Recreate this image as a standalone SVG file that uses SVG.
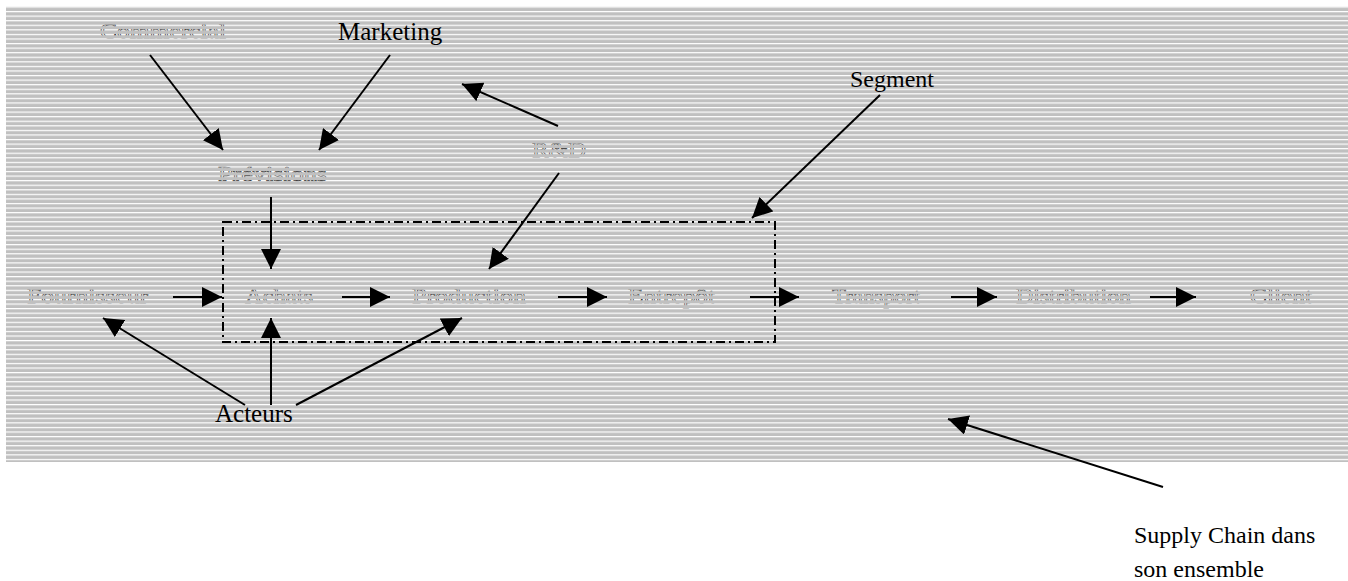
<svg xmlns="http://www.w3.org/2000/svg" width="1348" height="581" viewBox="0 0 1348 581">
  <defs>
    <!-- grey bands with thin transparent gaps; drawn over the outlined labels -->
    <pattern id="stripes" patternUnits="userSpaceOnUse" width="20" height="4.57" patternTransform="translate(0,1.86)">
      <rect x="0" y="1.2" width="20" height="3.37" fill="#c0c0c0"/>
    </pattern>
    <marker id="head" markerUnits="userSpaceOnUse" markerWidth="21" markerHeight="20" refX="20" refY="10" orient="auto" viewBox="0 0 21 20">
      <path d="M0,0 L20,10 L0,20 Z" fill="#000"/>
    </marker>
    <style>
      .step { font-family: "Liberation Serif", "Times New Roman", serif; font-size: 20px; fill: #ffffff; stroke: #111; stroke-width: 0.6; }
      .label { font-family: "Liberation Serif", "Times New Roman", serif; font-size: 24px; fill: #000; }
      .big { font-size: 25px; }
      .arrow { stroke: #000; stroke-width: 2; fill: none; marker-end: url(#head); }
      .segment { stroke: #000; stroke-width: 2; fill: none; stroke-dasharray: 9 4 2 4; }
    </style>
  </defs>

  <rect x="0" y="0" width="1348" height="581" fill="#ffffff"/>

  <!-- outlined process labels, partly hidden by the striped band -->
  <g id="node-commercial"><text class="step" x="100" y="38" textLength="126" lengthAdjust="spacingAndGlyphs">Commercial</text></g>
  <g id="node-previsions"><text class="step" x="218" y="181" textLength="109" lengthAdjust="spacingAndGlyphs">Prévisions</text></g>
  <g id="node-rd"><text class="step" x="532" y="157" textLength="54" lengthAdjust="spacingAndGlyphs">R&amp;D</text></g>
  <g id="node-fournisseur"><text class="step" x="27" y="303" textLength="121" lengthAdjust="spacingAndGlyphs">Fournisseur</text></g>
  <g id="node-achats"><text class="step" x="245" y="303" textLength="68" lengthAdjust="spacingAndGlyphs">Achats</text></g>
  <g id="node-production"><text class="step" x="412" y="303" textLength="114" lengthAdjust="spacingAndGlyphs">Production</text></g>
  <g id="node-entrepot"><text class="step" x="628" y="303" textLength="87" lengthAdjust="spacingAndGlyphs">Entrepôt</text></g>
  <g id="node-transport"><text class="step" x="832" y="303" textLength="88" lengthAdjust="spacingAndGlyphs">Transport</text></g>
  <g id="node-distribution"><text class="step" x="1016" y="303" textLength="115" lengthAdjust="spacingAndGlyphs">Distribution</text></g>
  <g id="node-client"><text class="step" x="1250" y="303" textLength="62" lengthAdjust="spacingAndGlyphs">Client</text></g>

  <!-- striped band covering the whole chain -->
  <rect id="band" x="6" y="6.7" width="1342" height="455.3" fill="url(#stripes)"/>

  <!-- plain labels -->
  <g id="node-marketing"><text class="label big" x="338" y="40">Marketing</text></g>
  <g id="node-segment"><text class="label" x="850" y="87">Segment</text></g>
  <g id="node-acteurs"><text class="label big" x="215" y="422">Acteurs</text></g>
  <g id="node-supply-chain"><text class="label" x="1134" y="543">Supply Chain dans</text><text class="label" x="1134" y="577">son ensemble</text></g>

  <!-- segment frame -->
  <g id="segment-frame">
    <rect class="segment" x="223" y="222" width="552" height="120"/>
  </g>

  <g id="connectors">
    <line class="arrow" x1="150" y1="55" x2="223" y2="150"/>
    <line class="arrow" x1="390" y1="55" x2="319" y2="150"/>
    <line class="arrow" x1="558" y1="126" x2="462" y2="84"/>
    <line class="arrow" x1="559" y1="173" x2="489" y2="269"/>
    <line class="arrow" x1="880" y1="95" x2="752" y2="218"/>
    <line class="arrow" x1="271" y1="197" x2="271" y2="269"/>
    <line class="arrow" x1="173" y1="297" x2="222" y2="297"/>
    <line class="arrow" x1="342" y1="297" x2="390" y2="297"/>
    <line class="arrow" x1="558" y1="297" x2="607" y2="297"/>
    <line class="arrow" x1="750" y1="297" x2="799" y2="297"/>
    <line class="arrow" x1="951" y1="297" x2="997" y2="297"/>
    <line class="arrow" x1="1150" y1="297" x2="1196" y2="297"/>
    <line class="arrow" x1="245" y1="405" x2="103" y2="318"/>
    <line class="arrow" x1="271" y1="405" x2="271" y2="318"/>
    <line class="arrow" x1="296" y1="405" x2="462" y2="318"/>
    <line class="arrow" x1="1163" y1="487" x2="948" y2="419"/>
  </g>
</svg>
